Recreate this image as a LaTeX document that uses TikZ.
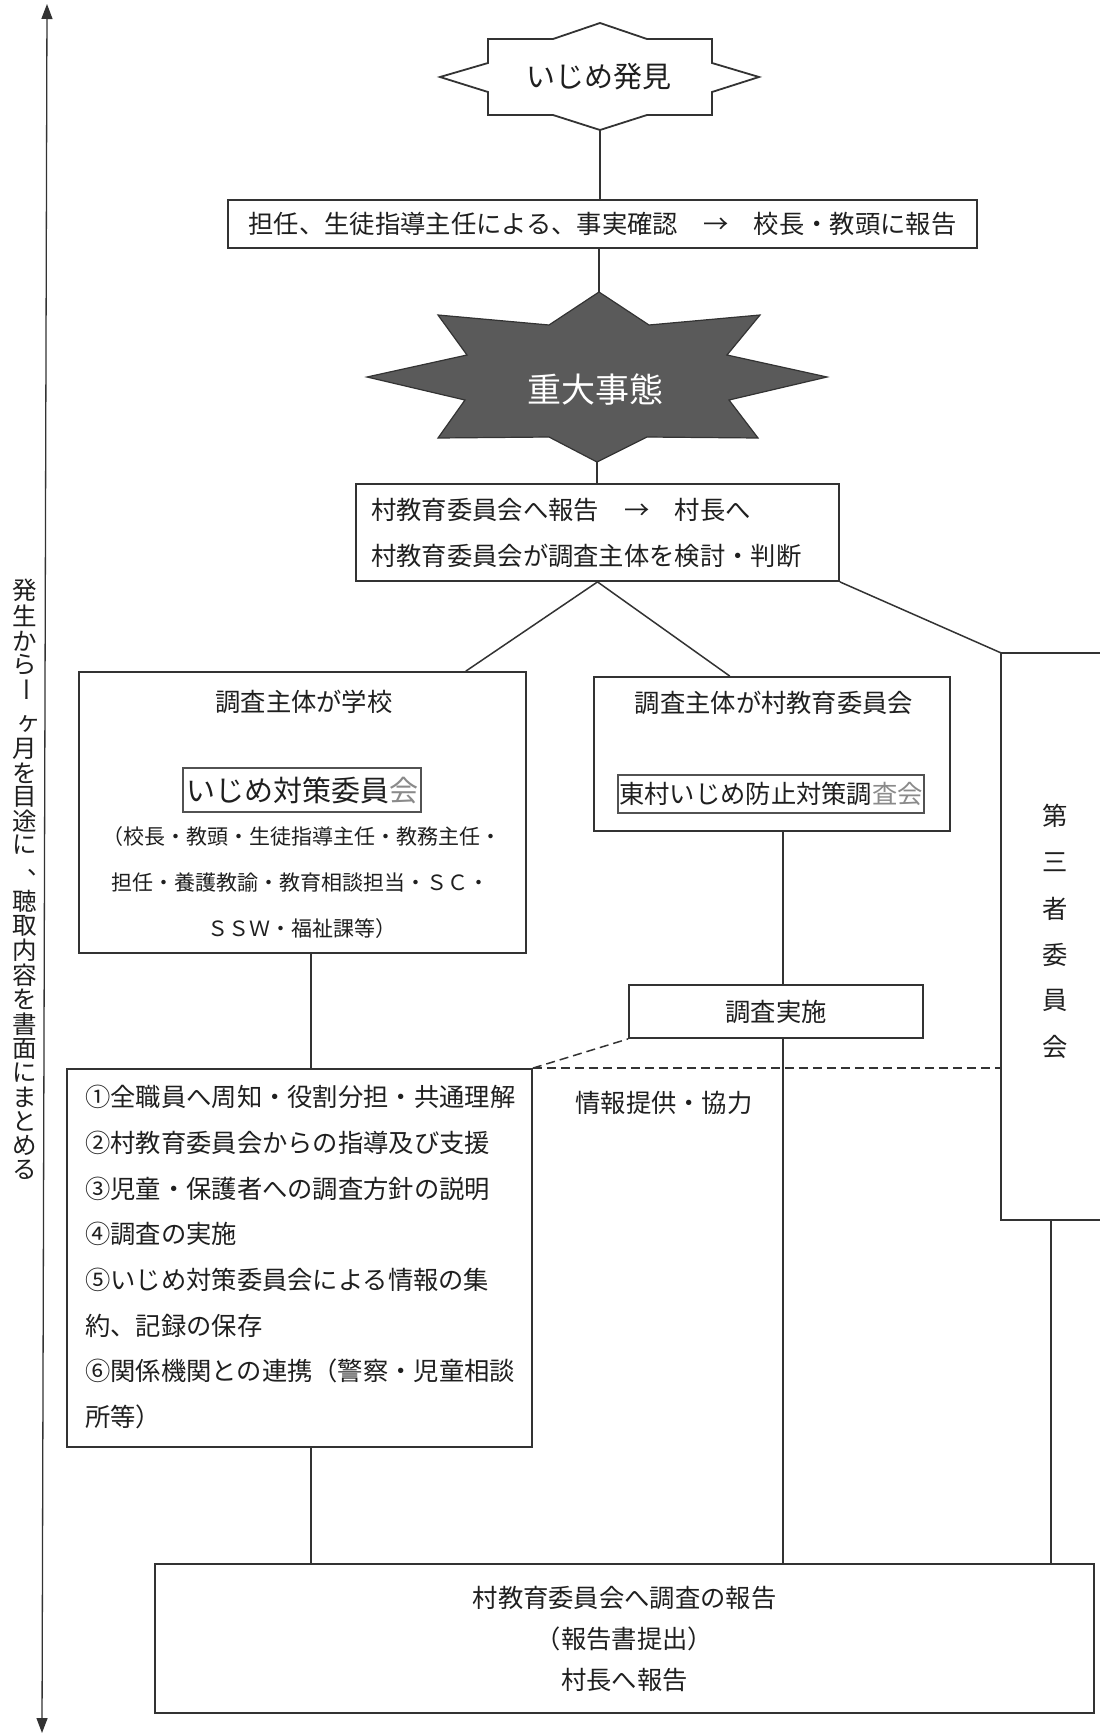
\documentclass[tikz,border=0pt]{standalone}
\usepackage{fontspec}
\setmainfont{Noto Sans CJK JP}
\usetikzlibrary{calc,arrows.meta}
\definecolor{lc}{HTML}{333333}
\definecolor{starfill}{HTML}{5A5A5A}
\definecolor{ghost}{HTML}{8A8A8A}
\newcommand\myfs[1]{\fontsize{#1}{#1}\selectfont}
\begin{document}
\begin{tikzpicture}[x=1pt,y=-1pt,
  ln/.style={draw=lc,line width=1.5pt},
  dln/.style={draw=lc,line width=1.5pt,dash pattern=on 9pt off 5pt},
  outl/.style={draw=lc,line width=1.8pt,line join=miter},
  frame/.style={draw=lc,line width=1.8pt,rectangle,inner sep=0pt},
  subframe/.style={draw=lc!85,line width=1.1pt,rectangle,inner sep=0pt},
  txt/.style={inner sep=0pt,text=black!88,font=\myfs{25.3}},
  small/.style={inner sep=0pt,text=black!88,font=\myfs{21}},
  vch/.style={inner sep=0pt,text=black!88,font=\myfs{24.5}},
]
\useasboundingbox (0,0) rectangle (1100,1735);
\fill[white] (0,0) rectangle (1100,1735);
\clip (0,0) rectangle (1100,1735);

% ---- time arrow on the left
\coordinate (atop) at (47,4);
\coordinate (abot) at (42,1733);
\draw[ln,line width=1.3pt,{Triangle[length=15pt,width=11pt]}-{Triangle[length=15pt,width=11pt]}] (atop) -- (abot);

\foreach \c/\yy [count=\i] in {発/590,生/616,か/641,ら/665,月/749,を/773,目/797,途/821,に/845,聴/901,取/926,内/950,容/975,を/999,書/1024,面/1049,に/1073,ま/1097,と/1121,め/1145,る/1170}
  \node[vch] (v\i) at (25,\yy) {\c};
\node[vch,rotate=-90] (vbar) at (23,690) {ー};
\node[vch] (vke) at (29,724) {ヶ};
\node[vch] (vcomma) at (25,879) {︑};

% ---- star 1
\draw[outl,fill=white] (488,39) -- (553,39) -- (600,23) -- (647,39) -- (712,39) -- (712,63) -- (759,77) -- (712,92) -- (712,115) -- (647,115) -- (600,130) -- (553,115) -- (488,115) -- (488,92) -- (440,77) -- (488,63) -- cycle;
\node[txt,font=\myfs{29}] (s1) at (599,77) {いじめ発見};
\coordinate (s1bot) at (600,130);

% ---- box 1
\node[frame,txt,draw=lc,minimum width=749pt,minimum height=48pt] (box1) at (602.5,224) {担任、生徒指導主任による、事実確認　→　校長・教頭に報告};

% ---- star 2
\draw[draw=lc,line width=1.2pt,fill=starfill,line join=miter]
  (599,292) -- (649,325) -- (760,315) -- (727,355) -- (827,377) -- (729,400) -- (758,438) -- (647,437)
  -- (597,462) -- (549,437) -- (438,438) -- (465,400) -- (367,377) -- (467,355) -- (438,315) -- (549,325) -- cycle;
\node[txt,text=white,font=\myfs{34}] (s2) at (595,390) {重大事態};
\coordinate (s2top) at (599,292);
\coordinate (s2bot) at (597,462);

% ---- box 2
\node[frame,minimum width=483pt,minimum height=97pt] (box2) at (597.5,532.5) {};
\node[txt,anchor=west] (b2a) at (371,510) {村教育委員会へ報告　→　村長へ};
\node[txt,anchor=west] (b2b) at (371,556) {村教育委員会が調査主体を検討・判断};

% ---- school box
\node[frame,minimum width=447pt,minimum height=281pt] (sch) at (302.5,812.5) {};
\node[txt] (scht) at (304,702) {調査主体が学校};
\node[subframe,font=\myfs{29},text=black!88,minimum width=238pt,minimum height=44pt] (ijc) at (302,790) {いじめ対策委員{\color{ghost}会}};
\node[small] (m1) at (302,837) {（校長・教頭・生徒指導主任・教務主任・};
\node[small] (m2) at (300,883) {担任・養護教諭・教育相談担当・ＳＣ・};
\node[small] (m3) at (302,929) {ＳＳＷ・福祉課等）};

% ---- village board box
\node[frame,minimum width=356pt,minimum height=154pt] (mid) at (772,754) {};
\node[txt] (midt) at (774,703) {調査主体が村教育委員会};
\node[subframe,txt,draw=lc!85,minimum width=306pt,minimum height=38pt] (hig) at (771,794) {東村いじめ防止対策調{\color{ghost}査会}};

% ---- investigation box
\node[frame,txt,draw=lc,minimum width=294pt,minimum height=53pt] (imp) at (776,1011.5) {調査実施};

% ---- third party committee (open to the right)
\node[inner sep=0pt,minimum width=109pt,minimum height=567pt] (third) at (1055.5,936.5) {};
\draw[outl] (third.north east) -- (third.north west) -- (third.south west) -- (third.south east);
\foreach \c [count=\i] in {第,三,者,委,員,会}
  \node[txt] (t\i) at (1055,{816+(\i-1)*46.2}) {\c};

% ---- list box
\node[frame,minimum width=465pt,minimum height=378pt] (list) at (299.5,1258) {};
\foreach \s [count=\i] in {①全職員へ周知・役割分担・共通理解,②村教育委員会からの指導及び支援,③児童・保護者への調査方針の説明,④調査の実施,⑤いじめ対策委員会による情報の集,約、記録の保存,⑥関係機関との連携（警察・児童相談,所等）}
  \node[txt,anchor=west] (l\i) at (85,{1097+(\i-1)*45.7}) {\s};

\node[txt] (info) at (664,1103) {情報提供・協力};

% ---- bottom box
\node[frame,draw=lc,inner sep=0pt,text=black!88,align=center,font=\fontsize{25.3}{41}\selectfont,minimum width=939pt,minimum height=149pt] (bot) at (624.5,1638.5) {村教育委員会へ調査の報告\\（報告書提出）\\村長へ報告};

% ---- connectors
\coordinate (L1) at (311,0);
\coordinate (L2) at (783,0);
\coordinate (L3) at (1051,0);
\draw[ln] (s1bot) -- (s1bot |- box1.north);
\draw[ln] (box1.south -| s2top) -- (s2top);
\draw[ln] (s2bot) -- (s2bot |- box2.north);
\draw[ln] (box2.south) -- ($(sch.north west)!0.864!(sch.north east)$);
\draw[ln] (box2.south) -- ($(mid.north west)!0.382!(mid.north east)$);
\draw[ln] (box2.south east) -- (third.north west);
\draw[ln] (sch.south -| L1) -- (list.north -| L1);
\draw[ln] (list.south -| L1) -- (bot.north -| L1);
\draw[ln] (mid.south -| L2) -- (imp.north -| L2);
\draw[ln] (imp.south -| L2) -- (bot.north -| L2);
\draw[ln] (third.south -| L3) -- (bot.north -| L3);
\draw[dln] (list.north east) -- (imp.south west);
\draw[dln] (list.north east) -- (list.north east -| third.west);
\end{tikzpicture}
\end{document}
